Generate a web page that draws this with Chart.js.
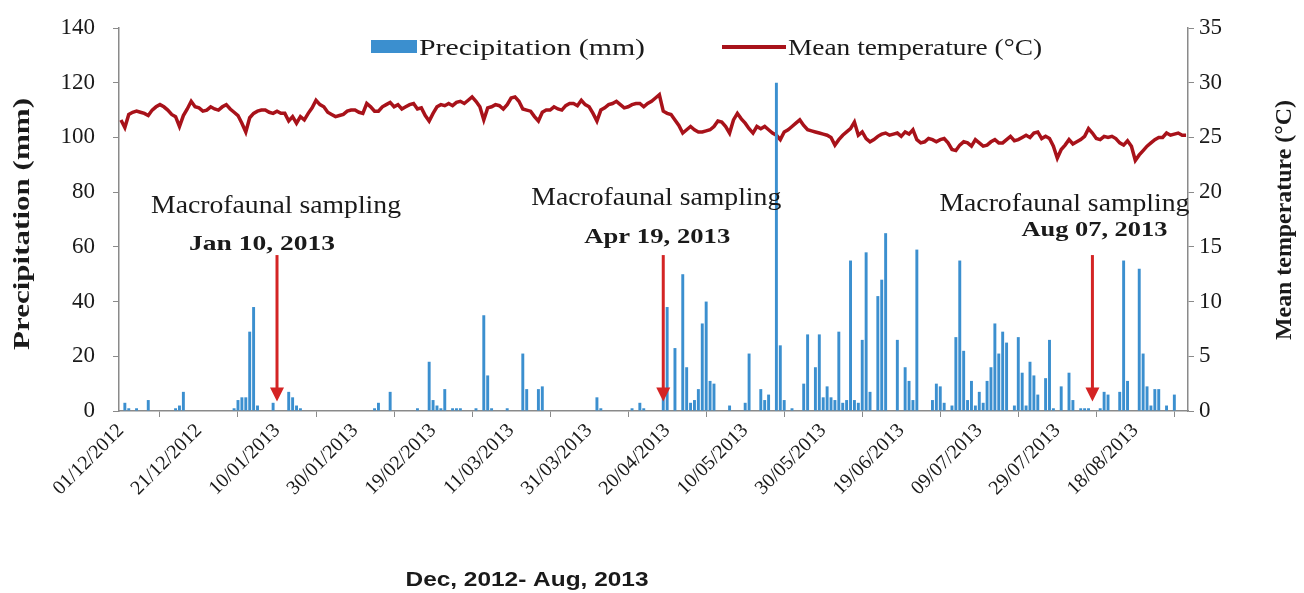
<!DOCTYPE html>
<html><head><meta charset="utf-8">
<script src="https://cdn.jsdelivr.net/npm/chart.js@4.4.1/dist/chart.umd.min.js"></script>
<style>html,body{margin:0;padding:0;background:#fff;}#wrap{width:1304px;height:593px;}</style>
</head><body><div id="wrap"><canvas id="c" width="1304" height="593"></canvas></div>
<script>
// ---- Daily precipitation (mm) by month ----
const precipDec = [0,3,1,0,1,0,0,4,0,0, 0,0,0,0,1,2,7,0,0,0, 0,0,0,0,0,0,0,0,0,1, 4];
const precipJan = [5,5,29,38,2,0,0,0,3,0, 0,0,7,5,2,1,0,0,0,0, 0,0,0,0,0,0,0,0,0,0, 0];
const precipFeb = [0,0,0,1,3,0,0,7,0,0, 0,0,0,0,1,0,0,18,4,2, 1,8,0,1,1,1,0,0];
const precipMar = [0,1,0,35,13,1,0,0,0,1, 0,0,0,21,8,0,0,8,9,0, 0,0,0,0,0,0,0,0,0,0, 0];
const precipApr = [0,5,1,0,0,0,0,0,0,0, 1,0,3,1,0,0,0,0,5,38, 0,23,0,50,16,3,4,8,32,40];
const precipMay = [11,10,0,0,0,2,0,0,0,3, 21,0,0,8,4,6,0,120,24,4, 0,1,0,0,10,28,0,16,28,5, 9];
const precipJun = [5,4,29,3,4,55,4,3,26,58, 7,0,42,48,65,0,0,26,0,16, 11,4,59,0,0,0,4,10,9,3];
const precipJul = [0,2,27,55,22,4,11,2,7,3, 11,16,32,21,29,25,0,2,27,14, 2,18,13,6,0,12,26,1,0,9, 0];
const precipAug = [14,4,0,1,1,1,0,0,1,7, 6,0,0,7,55,11,0,0,52,21, 9,2,8,8,0,2,0,6,0,0, 0];

// ---- Daily mean temperature (°C) by month ----
const tempDec = [26.6,25.9,27.1,27.3,27.4,27.3,27.2,27.0,27.5,27.8, 28.0,27.8,27.5,27.1,26.9,26.0,27.0,27.6,28.3,27.8, 27.7,27.4,27.5,27.8,27.6,27.5,27.8,28.0,27.6,27.3, 27.0];
const tempJan = [26.3,25.5,26.8,27.2,27.4,27.5,27.5,27.3,27.2,27.4, 27.2,27.2,26.5,26.9,26.3,26.9,26.6,27.2,27.7,28.4, 28.0,27.8,27.3,27.1,26.9,27.0,27.1,27.4,27.5,27.5, 27.3];
const tempFeb = [27.2,28.1,27.8,27.4,27.4,27.8,28.0,28.2,27.8,28.0, 27.6,27.8,28.0,28.1,27.6,27.7,27.0,26.5,27.2,27.8, 28.0,27.9,28.1,27.9,28.2,28.3,28.1,28.4];
const tempMar = [28.7,28.3,27.8,26.6,27.7,27.8,28.0,27.9,27.6,28.0, 28.6,28.7,28.3,27.6,27.5,27.4,26.9,26.5,27.3,27.5, 27.5,27.8,27.6,27.5,27.9,28.1,28.1,27.9,28.4,28.0, 27.8];
const tempApr = [27.2,26.5,27.5,27.7,28.0,28.1,28.3,28.0,27.7,27.8, 28.0,28.1,28.1,27.8,28.1,28.3,28.6,28.9,27.4,27.2, 27.1,26.6,26.1,25.4,25.7,26.0,25.7,25.5,25.5,25.6];
const tempMay = [25.7,26.0,26.5,26.4,26.0,25.4,26.6,27.2,26.7,26.3, 25.8,25.4,26.0,25.8,26.0,25.7,25.4,25.2,24.8,25.5, 25.7,26.0,26.3,26.6,26.1,25.7,25.6,25.5,25.4,25.3, 25.2];
const tempJun = [25.0,24.3,24.8,25.2,25.5,25.8,26.4,25.2,25.5,24.9, 24.6,24.8,25.1,25.3,25.4,25.2,25.3,25.4,25.1,25.5, 25.3,25.7,24.8,24.5,24.6,24.9,24.8,24.6,24.8,24.9];
const tempJul = [24.5,23.9,23.8,24.3,24.6,24.5,24.2,24.8,24.5,24.2, 24.3,24.6,24.8,24.5,24.5,24.8,25.1,24.7,24.8,25.0, 25.2,25.0,25.4,25.5,24.9,25.1,24.9,24.2,23.1,23.9, 24.3];
const tempAug = [24.8,24.4,24.6,24.8,25.1,25.8,25.4,24.9,24.8,25.1, 25.0,25.1,24.9,24.5,24.3,24.7,24.2,22.9,23.4,23.8, 24.2,24.5,24.8,25.0,25.0,25.4,25.2,25.3,25.4,25.2, 25.2];

// ---- Axis tick labels and annotations ----
const tickLabels = ['01/12/2012','21/12/2012','10/01/2013','30/01/2013','19/02/2013','11/03/2013','31/03/2013','20/04/2013','10/05/2013','30/05/2013','19/06/2013','09/07/2013','29/07/2013','18/08/2013'];
const samplingDates = ['10/01/2013','19/04/2013','07/08/2013'];
const samplingLabels = ['Jan 10, 2013','Apr 19, 2013','Aug 07, 2013'];
const seriesNames = ['Precipitation (mm)','Mean temperature (°C)'];

const precip = [].concat(precipDec,precipJan,precipFeb,precipMar,precipApr,precipMay,precipJun,precipJul,precipAug);
const temp = [].concat(tempDec,tempJan,tempFeb,tempMar,tempApr,tempMay,tempJun,tempJul,tempAug);

const categories = [];
for (let i = 0; i < precip.length; i++) {
  const d = new Date(2012, 11, 1 + i);
  const p = n => String(n).padStart(2,'0');
  categories.push(p(d.getDate()) + '/' + p(d.getMonth()+1) + '/' + d.getFullYear());
}

const SERIF = '"Liberation Serif", "Times New Roman", serif';
const SANS = '"Liberation Sans", Arial, sans-serif';
const BLUE = '#3B8FCF';
const RED = '#A8121A';
const ARROW = '#D42424';
const TXT = '#1a1a1a';
const AXIS = '#8a8a8a';

const noteLayout = [
  {dx1:-1, y1:213, dx2:-15, y2:250},
  {dx1:-7, y1:205, dx2:-6, y2:243},
  {dx1:-28, y1:211, dx2:2, y2:236}
];

function fitText(ctx, text, x, y, font, width, align, rot) {
  ctx.save();
  ctx.font = font;
  const w = ctx.measureText(text).width;
  const sx = width ? width / w : 1;
  ctx.translate(x, y);
  if (rot) ctx.rotate(rot);
  ctx.scale(sx, 1);
  ctx.textAlign = align || 'left';
  ctx.textBaseline = 'alphabetic';
  ctx.fillText(text, 0, 0);
  ctx.restore();
}

const decor = {
  id: 'decor',
  afterDatasetsDraw(chart) {
    const ctx = chart.ctx;
    const xs = chart.scales.x, ys = chart.scales.y;
    samplingDates.forEach((d, k) => {
      const i = categories.indexOf(d);
      const px = xs.getPixelForValue(i);
      const yTail = ys.getPixelForValue(57);
      const yTip = ys.getPixelForValue(3.5);
      ctx.save();
      ctx.strokeStyle = ARROW; ctx.fillStyle = ARROW; ctx.lineWidth = 3;
      ctx.beginPath(); ctx.moveTo(px, yTail); ctx.lineTo(px, yTip - 12); ctx.stroke();
      ctx.beginPath(); ctx.moveTo(px - 7, yTip - 14); ctx.lineTo(px + 7, yTip - 14); ctx.lineTo(px, yTip); ctx.closePath(); ctx.fill();
      ctx.restore();
      const L = noteLayout[k];
      ctx.fillStyle = TXT;
      fitText(ctx, 'Macrofaunal sampling', px + L.dx1, L.y1, '25px ' + SERIF, 250, 'center');
      ctx.fillStyle = TXT;
      fitText(ctx, samplingLabels[k], px + L.dx2, L.y2, 'bold 21px ' + SERIF, 146, 'center');
    });
  },
  afterDraw(chart) {
    const ctx = chart.ctx;
    ctx.save();
    ctx.fillStyle = BLUE; ctx.fillRect(371, 40, 46, 13);
    ctx.strokeStyle = RED; ctx.lineWidth = 4;
    ctx.beginPath(); ctx.moveTo(722, 47); ctx.lineTo(786, 47); ctx.stroke();
    ctx.fillStyle = TXT;
    fitText(ctx, seriesNames[0], 419, 55, '24px ' + SERIF, 226, 'left');
    fitText(ctx, seriesNames[1], 788, 55, '24px ' + SERIF, 254, 'left');
    fitText(ctx, 'Precipitation (mm)', 29, 224, 'bold 24px ' + SERIF, 252, 'center', -Math.PI/2);
    fitText(ctx, 'Mean temperature (°C)', 1291, 220, 'bold 24px ' + SERIF, 240, 'center', -Math.PI/2);
    fitText(ctx, 'Dec, 2012- Aug, 2013', 527, 586, 'bold 21px ' + SANS, 243, 'center');
    ctx.restore();
  }
};

function fixV(width) {
  return function(s) { s.width = width; s.paddingTop = 0; s.paddingBottom = 0; };
}

new Chart(document.getElementById('c').getContext('2d'), {
  data: {
    labels: categories,
    datasets: [
      {type:'bar', label: seriesNames[0], data: precip, yAxisID:'y', backgroundColor: BLUE, borderWidth: 0, barPercentage: 0.75, categoryPercentage: 1, order: 0},
      {type:'line', label: seriesNames[1], data: temp, yAxisID:'y1', borderColor: RED, borderWidth: 3.5, pointRadius: 0, tension: 0, order: 1}
    ]
  },
  options: {
    responsive: false, animation: false, devicePixelRatio: 1,
    layout: {padding: {top: 28, left: 0, right: 0, bottom: 0}},
    plugins: {legend: {display: false}, tooltip: {enabled: false}},
    scales: {
      x: {
        type: 'category', offset: true,
        grid: {display: true, drawOnChartArea: false, drawTicks: true, tickLength: 6, color: AXIS, offset: true},
        border: {color: AXIS, width: 1.5},
        ticks: {autoSkip: false, maxRotation: 45, minRotation: 45, padding: 2, color: TXT,
          font: {family: SERIF, size: 20},
          callback: function(v, i) { const l = categories[i]; return tickLabels.includes(l) ? l : null; }},
        afterFit(s) { s.height = 182; s.paddingLeft = 0; s.paddingRight = 0; }
      },
      y: {
        position: 'left', min: 0, max: 140,
        ticks: {stepSize: 20, padding: 18, color: TXT, font: {family: SERIF, size: 23}},
        grid: {drawOnChartArea: false, tickLength: 6, color: AXIS},
        border: {color: AXIS, width: 1.5},
        afterFit: fixV(119)
      },
      y1: {
        position: 'right', min: 0, max: 35,
        ticks: {stepSize: 5, padding: 5, color: TXT, font: {family: SERIF, size: 23}},
        grid: {drawOnChartArea: false, tickLength: 6, color: AXIS},
        border: {color: AXIS, width: 1.5},
        afterFit: fixV(116)
      }
    }
  },
  plugins: [decor]
});
</script></body></html>
